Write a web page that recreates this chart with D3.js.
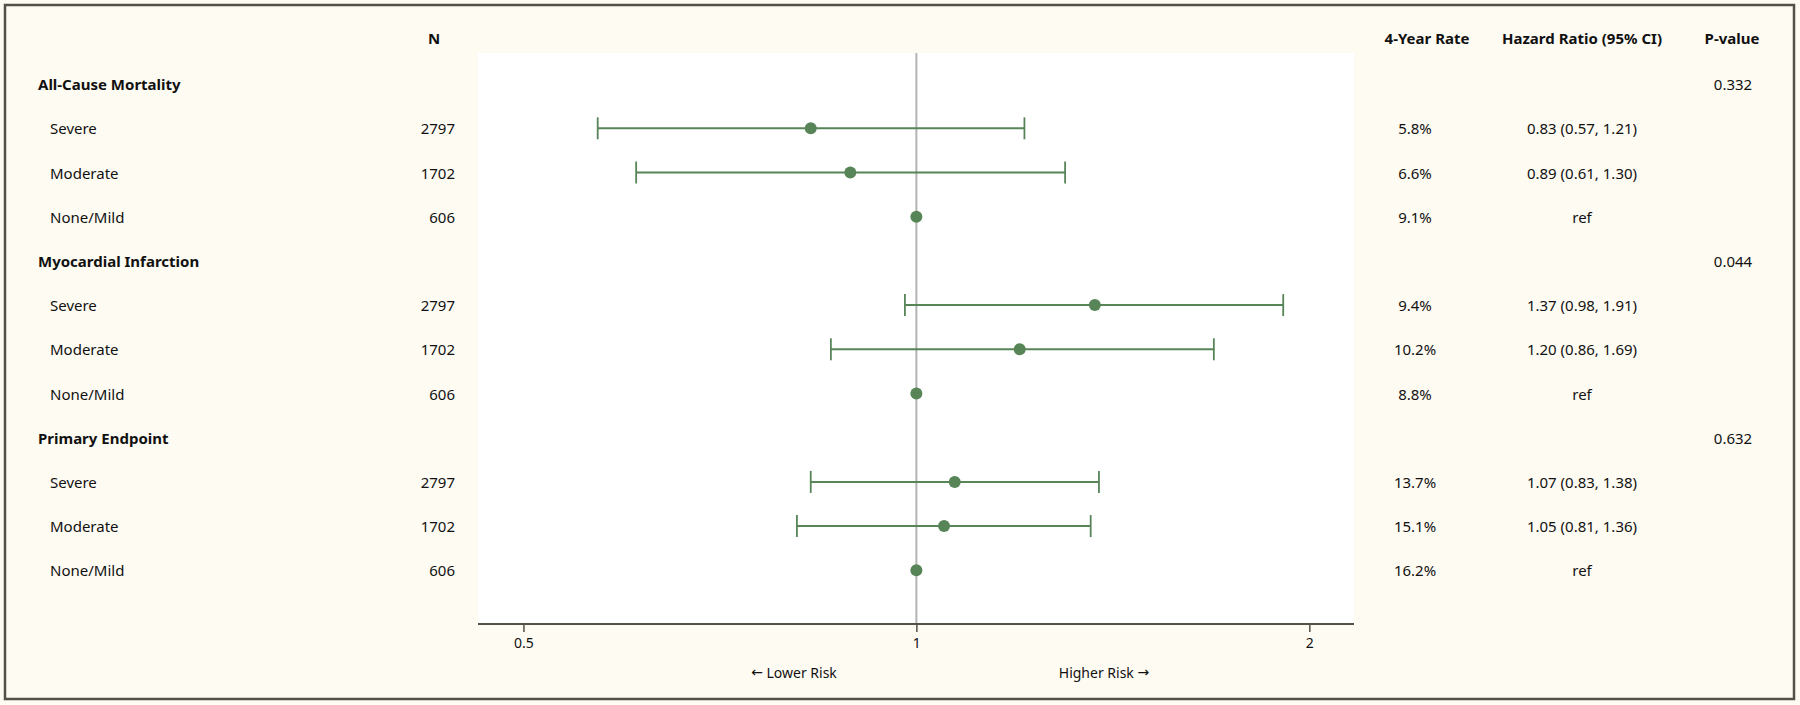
<!DOCTYPE html>
<html>
<head>
<meta charset="utf-8">
<script src="https://cdn.jsdelivr.net/npm/d3@7"></script>
<style>
  html, body { margin: 0; padding: 0; background: #fefbf3; }
  svg { display: block; }
  text { font-family: "Noto Sans", "Open Sans", sans-serif; fill: #111; }
</style>
</head>
<body>
<script>
// ---- Data ----
const groups = ["All-Cause Mortality", "Myocardial Infarction", "Primary Endpoint"];
const subgroups = ["Severe", "Moderate", "None/Mild"];
const nValues = [2797, 1702, 606];
const hr    = [[0.83, 0.89, 1], [1.37, 1.20, 1], [1.07, 1.05, 1]];
const lower = [[0.57, 0.61, null], [0.98, 0.86, null], [0.83, 0.81, null]];
const upper = [[1.21, 1.30, null], [1.91, 1.69, null], [1.38, 1.36, null]];
const rates = [["5.8%", "6.6%", "9.1%"], ["9.4%", "10.2%", "8.8%"], ["13.7%", "15.1%", "16.2%"]];
const hrLabels = [["0.83 (0.57, 1.21)", "0.89 (0.61, 1.30)", "ref"],
                  ["1.37 (0.98, 1.91)", "1.20 (0.86, 1.69)", "ref"],
                  ["1.07 (0.83, 1.38)", "1.05 (0.81, 1.36)", "ref"]];
const pValues = ["0.332", "0.044", "0.632"];
const tickValues = [0.5, 1, 2];
const headers = {n: "N", rate: "4-Year Rate", hr: "Hazard Ratio (95% CI)", p: "P-value"};

// ---- Build rows ----
const rows = [];
groups.forEach((g, gi) => {
  rows.push({type: "group", label: g, p: pValues[gi]});
  subgroups.forEach((s, si) => {
    rows.push({type: "sub", label: s, n: nValues[si], hr: hr[gi][si],
               lo: lower[gi][si], hi: upper[gi][si],
               rate: rates[gi][si], hrLabel: hrLabels[gi][si]});
  });
});

const W = 1800, H = 705;
const svg = d3.select("body").append("svg").attr("width", W).attr("height", H);

svg.append("rect").attr("x", 0).attr("y", 0).attr("width", W).attr("height", H).attr("fill", "#fefbf3");

const plotL = 478, plotR = 1354, plotT = 53, plotB = 624;
const x = d3.scaleLog().domain([0.4615, 2.164]).range([plotL, plotR]);
const y = d3.scaleLinear().domain([0, 1]).range([84.1, 128.3]);

svg.append("rect").attr("x", plotL).attr("y", plotT)
   .attr("width", plotR - plotL).attr("height", plotB - plotT).attr("fill", "#ffffff");

const green = "#578557";

// reference line
svg.append("line").attr("x1", x(1)).attr("x2", x(1)).attr("y1", plotT).attr("y2", plotB)
   .attr("stroke", "#b3b3b3").attr("stroke-width", 2);

// axis
const axis = svg.append("g").attr("transform", `translate(0,${plotB})`)
  .call(d3.axisBottom(x).tickValues(tickValues).tickFormat(d3.format("")).tickSize(8).tickPadding(6));
axis.select(".domain").attr("stroke", "#555045").attr("stroke-width", 2.2)
    .attr("d", `M${plotL},0H${plotR}`);
axis.selectAll(".tick line").attr("stroke", "#555045").attr("stroke-width", 1.5);
axis.selectAll(".tick text").style("font-family", '"Noto Sans", sans-serif').style("font-size", "14px").attr("fill", "#111");

const lowT = svg.append("text").attr("x", 794).attr("y", 672).attr("text-anchor", "middle")
   .attr("dominant-baseline", "central").style("font-size", "14px");
lowT.append("tspan").style("font-family", '"DejaVu Sans", sans-serif').text("\u2190");
lowT.append("tspan").text(" Lower Risk");
const highT = svg.append("text").attr("x", 1104).attr("y", 672).attr("text-anchor", "middle")
   .attr("dominant-baseline", "central").style("font-size", "14px");
highT.append("tspan").text("Higher Risk ");
highT.append("tspan").style("font-family", '"DejaVu Sans", sans-serif').text("\u2192");

// headers
const hy = y(-1) - 2;
const hdr = (xx, t) => svg.append("text").attr("x", xx).attr("y", hy).attr("text-anchor", "middle")
   .attr("dominant-baseline", "central").style("font-size", "15px").style("font-weight", "bold").text(t);
hdr(434, headers.n);
hdr(1427, headers.rate);
hdr(1582, headers.hr);
hdr(1732, headers.p);

// rows text
const rg = svg.append("g").selectAll("g").data(rows).join("g")
  .attr("transform", (d, i) => `translate(0,${y(i)})`);

rg.append("text").attr("x", d => d.type === "group" ? 38 : 50).attr("y", 0)
  .attr("dominant-baseline", "central").style("font-size", "15px")
  .style("font-weight", d => d.type === "group" ? "bold" : "normal").text(d => d.label);

rg.filter(d => d.type === "sub").append("text").attr("x", 455).attr("y", 0)
  .attr("text-anchor", "end").attr("dominant-baseline", "central").style("font-size", "15px")
  .text(d => d.n);
rg.filter(d => d.type === "sub").append("text").attr("x", 1415).attr("y", 0)
  .attr("text-anchor", "middle").attr("dominant-baseline", "central").style("font-size", "15px")
  .text(d => d.rate);
rg.filter(d => d.type === "sub").append("text").attr("x", 1582).attr("y", 0)
  .attr("text-anchor", "middle").attr("dominant-baseline", "central").style("font-size", "15px")
  .text(d => d.hrLabel);
rg.filter(d => d.type === "group").append("text").attr("x", 1733).attr("y", 0)
  .attr("text-anchor", "middle").attr("dominant-baseline", "central").style("font-size", "15px")
  .text(d => d.p);

// CI lines
const ci = rg.filter(d => d.type === "sub" && d.lo != null);
ci.append("line").attr("x1", d => x(d.lo)).attr("x2", d => x(d.hi)).attr("y1", 0).attr("y2", 0)
  .attr("stroke", green).attr("stroke-width", 2);
ci.append("line").attr("x1", d => x(d.lo)).attr("x2", d => x(d.lo)).attr("y1", -11).attr("y2", 11)
  .attr("stroke", green).attr("stroke-width", 1.8);
ci.append("line").attr("x1", d => x(d.hi)).attr("x2", d => x(d.hi)).attr("y1", -11).attr("y2", 11)
  .attr("stroke", green).attr("stroke-width", 1.8);
rg.filter(d => d.type === "sub").append("circle").attr("cx", d => x(d.hr)).attr("cy", 0).attr("r", 6)
  .attr("fill", green);

// frame
svg.append("rect").attr("x", 5).attr("y", 5).attr("width", 1789).attr("height", 694)
   .attr("fill", "none").attr("stroke", "#555045").attr("stroke-width", 2.5);
</script>
</body>
</html>
